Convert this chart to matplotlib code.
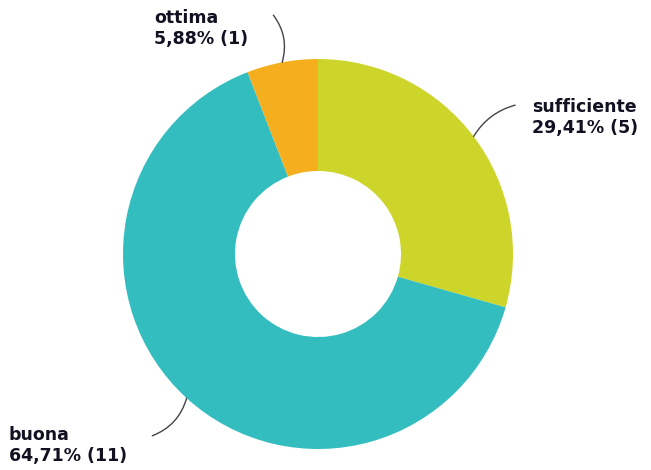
import numpy as np
import matplotlib
matplotlib.use("Agg")
import matplotlib.pyplot as plt

# data
labels = ["sufficiente", "buona", "ottima"]
counts = [5, 11, 1]
percents = ["29,41%", "64,71%", "5,88%"]
colors = ["#cdd52a", "#34bdbf", "#f5af1e"]

fig = plt.figure(figsize=(6.51, 4.70), dpi=100)
ax = fig.add_axes([0, 0, 1, 1])

cx, cy, R = 318, 216, 195
wedges, _ = ax.pie(counts, colors=colors, startangle=90, counterclock=False,
                   center=(cx, cy), radius=R, frame=True,
                   wedgeprops=dict(width=R - 83, linewidth=0))
ax.set_xlim(0, 651)
ax.set_ylim(0, 470)
ax.set_aspect("equal")
ax.axis("off")

# label layout: (text x, text y top), connector curvature, connector end radius
layout = {
    "sufficiente": ((532, 372), 0.2, 247),
    "buona": ((9, 44), 0.25, 246),
    "ottima": ((154, 461), -0.25, 243),
}

for w, lab, n, p in zip(wedges, labels, counts, percents):
    a = np.deg2rad((w.theta1 + w.theta2) / 2)
    (tx, ty), rad, rend = layout[lab]
    start = (cx + R * np.cos(a), cy + R * np.sin(a))
    end = (cx + rend * np.cos(a), cy + rend * np.sin(a))
    ax.annotate("", xy=start, xytext=end,
                arrowprops=dict(arrowstyle="-", color="#444444", lw=1,
                                connectionstyle="arc3,rad=%s" % rad,
                                shrinkA=0, shrinkB=0))
    ax.text(tx, ty, "%s\n%s (%d)" % (lab, p, n), ha="left", va="top",
            fontsize=12.5, fontweight="bold", color="#111122",
            linespacing=1.2)

fig.savefig("out.png", dpi=100)
